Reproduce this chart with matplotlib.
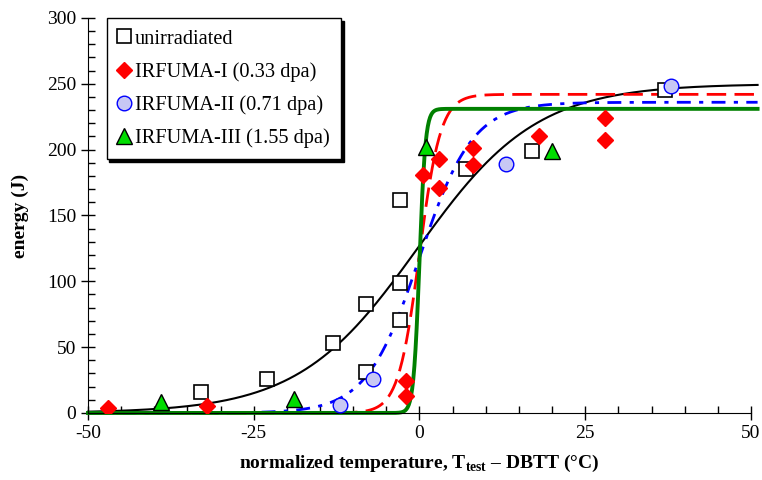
import numpy as np
import matplotlib
matplotlib.use("Agg")
import matplotlib.pyplot as plt
from matplotlib.ticker import MultipleLocator

plt.rcParams['font.family'] = ['Liberation Serif', 'DejaVu Serif']
plt.rcParams['mathtext.fontset'] = 'custom'
plt.rcParams['mathtext.rm'] = 'Liberation Serif'
plt.rcParams['mathtext.bf'] = 'Liberation Serif:bold'
plt.rcParams['axes.unicode_minus'] = False

# --- measured Charpy points (normalized T, energy J) ---
unirr_T = [-33, -23, -13, -8, -8, -3, -3, -3, 7, 17, 37]
unirr_E = [16, 26, 53, 83, 31, 99, 71, 162, 185, 199, 245]

irf1_T = [-47, -32, -2, -2, 0.5, 3, 3, 8, 8, 18, 28, 28]
irf1_E = [4, 5.5, 24, 13, 181, 193, 171, 201, 188, 210, 224, 207]

irf2_T = [-12, -7, 13, 38]
irf2_E = [6, 26, 189, 248]

irf3_T = [-39, -19, 1, 20]
irf3_E = [8, 11, 202, 199]

# tanh fit parameters: upper shelf (J), midpoint T0, width C
shelf = [250, 242, 236, 231]
t0 = [-0.3, 0.0, 0.0, 0.0]
width = [18.0, 3.2, 8.0, 0.9]

labels = ["unirradiated", "IRFUMA-I (0.33 dpa)", "IRFUMA-II (0.71 dpa)",
          "IRFUMA-III (1.55 dpa)"]

fig = plt.figure(figsize=(7.62, 4.8), dpi=100)
ax = fig.add_axes([0.1155, 0.1396, 0.87, 0.8229])

T = np.linspace(-50, 51, 600)
def tanh_curve(i):
    return shelf[i] / 2 * (1 + np.tanh((T - t0[i]) / width[i]))

ax.plot(T, tanh_curve(0), color='black', lw=1.5, clip_on=False, zorder=2)
ax.plot(T, tanh_curve(1), color='red', lw=2, dashes=(7, 3), clip_on=False, zorder=2)
ax.plot(T, tanh_curve(2), color='blue', lw=2, dashes=(5, 3, 1.5, 3), clip_on=False, zorder=2)
ax.plot(T, tanh_curve(3), color='#008000', lw=2.8, clip_on=False, zorder=2)

ax.plot(unirr_T, unirr_E, ls='none', marker='s', ms=10, mfc='white', mec='black',
        mew=1.2, label=labels[0], zorder=3)
ax.plot(irf1_T, irf1_E, ls='none', marker='D', ms=8.5, mfc='red', mec='red',
        mew=1, label=labels[1], zorder=4)
ax.plot(irf2_T, irf2_E, ls='none', marker='o', ms=10.5, mfc='#c8c8f4', mec='blue',
        mew=1, label=labels[2], zorder=4)
ax.plot(irf3_T, irf3_E, ls='none', marker='^', ms=11, mfc='#00dd00', mec='black',
        mew=1, label=labels[3], zorder=4)

ax.set_xlim(-50, 50)
ax.set_ylim(0, 300)
ax.xaxis.set_major_locator(MultipleLocator(25))
ax.xaxis.set_minor_locator(MultipleLocator(5))
ax.yaxis.set_major_locator(MultipleLocator(50))
ax.yaxis.set_minor_locator(MultipleLocator(10))
ax.tick_params(which='major', direction='inout', length=10, width=1, labelsize=14)
ax.tick_params(which='minor', direction='in', length=5, width=1)
ax.spines['top'].set_visible(False)
ax.spines['right'].set_visible(False)

ax.set_xlabel(r"normalized temperature, T$_{\mathbf{test}}$ – DBTT (°C)",
              fontsize=14, fontweight='bold', labelpad=8)
ax.set_ylabel("energy (J)", fontsize=14, fontweight='bold', labelpad=13)

leg = ax.legend(loc='upper left', bbox_to_anchor=(0.028, 1.0), fontsize=14.7,
                frameon=True, fancybox=False, shadow={'color': 'black', 'alpha': 1},
                edgecolor='black', framealpha=1, handlelength=0.6,
                handletextpad=0.25, labelspacing=0.66, borderpad=0.55,
                borderaxespad=0)
leg.get_frame().set_linewidth(1)

fig.savefig("out.png", dpi=100)
